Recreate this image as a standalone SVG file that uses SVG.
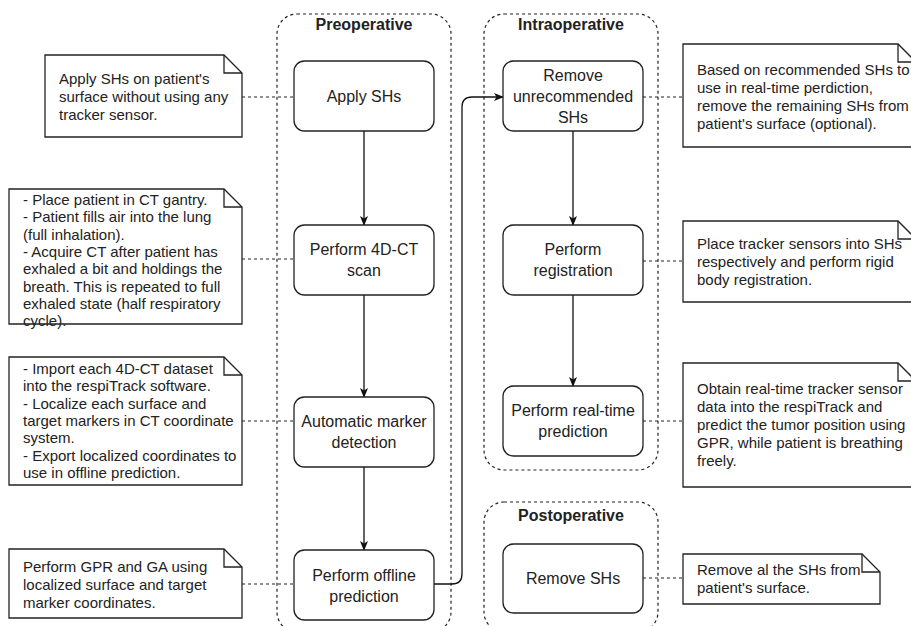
<svg xmlns="http://www.w3.org/2000/svg" width="911" height="626" viewBox="0 0 911 626">
<style>
.bg{fill:#fff}
.cont{fill:none;stroke:#222;stroke-width:1.2;stroke-dasharray:3 3}
.node rect{fill:#fff;stroke:#222;stroke-width:1.3}
.note path{fill:#fff;stroke:#222;stroke-width:1.3}
.note path.fold{fill:none}
.nt{font-family:"Liberation Sans",Arial,sans-serif;font-size:15px;fill:#222}
.lbl{font-family:"Liberation Sans",Arial,sans-serif;font-size:16px;fill:#222;text-anchor:middle}
.title{font-family:"Liberation Sans",Arial,sans-serif;font-size:16px;font-weight:bold;fill:#222;text-anchor:middle}
.dash{fill:none;stroke:#222;stroke-width:1.2;stroke-dasharray:3 3}
.arr{fill:none;stroke:#111;stroke-width:1.3;marker-end:url(#ah)}
</style>
<defs>
<marker id="ah" viewBox="0 0 10 10" refX="9" refY="5" markerWidth="10" markerHeight="10" markerUnits="userSpaceOnUse" orient="auto">
<path d="M0,1 L10,5 L0,9 L2.5,5 Z" fill="#111"/>
</marker>
</defs>
<rect class="bg" x="0" y="0" width="911" height="626"/>

<g id="containers">
<g id="preoperative"><rect class="cont" x="277" y="14" width="174" height="618" rx="20"/><text class="title" x="364" y="30">Preoperative</text></g>
<g id="intraoperative"><rect class="cont" x="484" y="14" width="174" height="456" rx="20"/><text class="title" x="571" y="30">Intraoperative</text></g>
<g id="postoperative"><rect class="cont" x="484" y="502" width="174" height="130" rx="20"/><text class="title" x="571" y="521">Postoperative</text></g>
</g>

<g id="connectors">
<path class="dash" d="M242,97 L294,97"/>
<path class="dash" d="M242,259 L294,259"/>
<path class="dash" d="M242,421 L294,421"/>
<path class="dash" d="M242,584 L294,584"/>
<path class="dash" d="M643,97 L683,97"/>
<path class="dash" d="M643,261 L683,261"/>
<path class="dash" d="M643,421 L683,421"/>
<path class="dash" d="M643,578 L683,578"/>
<path class="arr" d="M364,131 L364,225"/>
<path class="arr" d="M364,295 L364,397"/>
<path class="arr" d="M364,467 L364,550"/>
<path class="arr" d="M573,131 L573,225"/>
<path class="arr" d="M573,295 L573,386"/>
<path class="arr" d="M434,584 L452,584 Q462,584 462,574 L462,107 Q462,97 472,97 L503,97"/>
</g>

<g id="n_apply" class="node"><rect x="294" y="61" width="140" height="70" rx="10.5"/><text class="lbl" x="364" y="102">Apply SHs</text></g>
<g id="n_4dct" class="node"><rect x="294" y="225" width="140" height="70" rx="10.5"/><text class="lbl" x="364" y="255">Perform 4D-CT</text><text class="lbl" x="364" y="276">scan</text></g>
<g id="n_auto" class="node"><rect x="294" y="397" width="140" height="70" rx="10.5"/><text class="lbl" x="364" y="427">Automatic marker</text><text class="lbl" x="364" y="448">detection</text></g>
<g id="n_offline" class="node"><rect x="294" y="550" width="140" height="70" rx="10.5"/><text class="lbl" x="364" y="581">Perform offline</text><text class="lbl" x="364" y="602">prediction</text></g>
<g id="n_remove_unrec" class="node"><rect x="503" y="61" width="140" height="70" rx="10.5"/><text class="lbl" x="573" y="81">Remove</text><text class="lbl" x="573" y="102">unrecommended</text><text class="lbl" x="573" y="123">SHs</text></g>
<g id="n_registration" class="node"><rect x="503" y="225" width="140" height="70" rx="10.5"/><text class="lbl" x="573" y="255">Perform</text><text class="lbl" x="573" y="276">registration</text></g>
<g id="n_realtime" class="node"><rect x="503" y="386" width="140" height="70" rx="10.5"/><text class="lbl" x="573" y="416">Perform real-time</text><text class="lbl" x="573" y="437">prediction</text></g>
<g id="n_remove_shs" class="node"><rect x="503" y="544" width="140" height="69" rx="10.5"/><text class="lbl" x="573" y="584">Remove SHs</text></g>

<g id="note_apply" class="note"><path d="M45,55 L224,55 L242,73 L242,137 L45,137 Z"/><path class="fold" d="M224,55 L224,73 L242,73"/>
<text class="nt"><tspan x="59" y="84">Apply SHs on patient's</tspan><tspan x="59" y="102">surface without using any</tspan><tspan x="59" y="120">tracker sensor.</tspan></text></g>

<g id="note_4dct" class="note"><path d="M9,189 L224,189 L242,207 L242,324 L9,324 Z"/><path class="fold" d="M224,189 L224,207 L242,207"/>
<text class="nt"><tspan x="23" y="205">- Place patient in CT gantry.</tspan><tspan x="23" y="222.3">- Patient fills air into the lung</tspan><tspan x="23" y="239.6">(full inhalation).</tspan><tspan x="23" y="256.9">- Acquire CT after patient has</tspan><tspan x="23" y="274.2">exhaled a bit and holdings the</tspan><tspan x="23" y="291.5">breath. This is repeated to full</tspan><tspan x="23" y="308.8">exhaled state (half respiratory</tspan><tspan x="23" y="326.1">cycle).</tspan></text></g>

<g id="note_auto" class="note"><path d="M9,357 L224,357 L242,375 L242,485 L9,485 Z"/><path class="fold" d="M224,357 L224,375 L242,375"/>
<text class="nt"><tspan x="23" y="374">- Import each 4D-CT dataset</tspan><tspan x="23" y="391.3">into the respiTrack software.</tspan><tspan x="23" y="408.6">- Localize each surface and</tspan><tspan x="23" y="425.9">target markers in CT coordinate</tspan><tspan x="23" y="443.2">system.</tspan><tspan x="23" y="460.5">- Export localized coordinates to</tspan><tspan x="23" y="477.8">use in offline prediction.</tspan></text></g>

<g id="note_offline" class="note"><path d="M9,549 L224,549 L242,567 L242,618 L9,618 Z"/><path class="fold" d="M224,549 L224,567 L242,567"/>
<text class="nt"><tspan x="23" y="572">Perform GPR and GA using</tspan><tspan x="23" y="590">localized surface and target</tspan><tspan x="23" y="608">marker coordinates.</tspan></text></g>

<g id="note_remove_unrec" class="note"><path d="M683,44 L898,44 L916,62 L916,147 L683,147 Z"/><path class="fold" d="M898,44 L898,62 L916,62"/>
<text class="nt"><tspan x="697" y="75">Based on recommended SHs to</tspan><tspan x="697" y="93">use in real-time perdiction,</tspan><tspan x="697" y="111">remove the remaining SHs from</tspan><tspan x="697" y="129">patient's surface (optional).</tspan></text></g>

<g id="note_registration" class="note"><path d="M683,221 L898,221 L916,239 L916,302 L683,302 Z"/><path class="fold" d="M898,221 L898,239 L916,239"/>
<text class="nt"><tspan x="697" y="249">Place tracker sensors into SHs</tspan><tspan x="697" y="267">respectively and perform rigid</tspan><tspan x="697" y="285">body registration.</tspan></text></g>

<g id="note_realtime" class="note"><path d="M683,363 L898,363 L916,381 L916,487 L683,487 Z"/><path class="fold" d="M898,363 L898,381 L916,381"/>
<text class="nt"><tspan x="697" y="394">Obtain real-time tracker sensor</tspan><tspan x="697" y="412">data into the respiTrack and</tspan><tspan x="697" y="430">predict the tumor position using</tspan><tspan x="697" y="448">GPR, while patient is breathing</tspan><tspan x="697" y="466">freely.</tspan></text></g>

<g id="note_remove_shs" class="note"><path d="M683,554 L862,554 L880,572 L880,604 L683,604 Z"/><path class="fold" d="M862,554 L862,572 L880,572"/>
<text class="nt"><tspan x="697" y="575">Remove al the SHs from</tspan><tspan x="697" y="593">patient's surface.</tspan></text></g>
</svg>
